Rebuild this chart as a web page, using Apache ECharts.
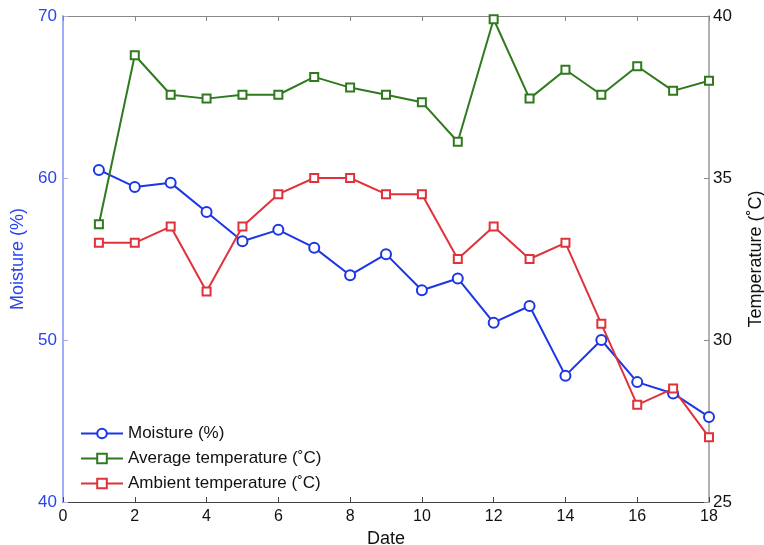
<!DOCTYPE html>
<html><head><meta charset="utf-8">
<script src="https://cdn.jsdelivr.net/npm/echarts@6/dist/echarts.min.js"></script>
<style>html,body{margin:0;padding:0;background:#fff}#c{width:764px;height:545px}</style>
</head><body><div id="c"></div>
<script>
const dates = [1,2,3,4,5,6,7,8,9,10,11,12,13,14,15,16,17,18];
const moisture = [60.5,59.45,59.7,57.9,56.1,56.8,55.7,54.0,55.3,53.07,53.8,51.07,52.1,47.8,50.0,47.4,46.7,45.25];
const avgTemp = [33.57,38.79,37.57,37.45,37.57,37.57,38.12,37.79,37.57,37.34,36.12,39.9,37.45,38.34,37.57,38.45,37.69,38.0];
const ambTemp = [33.0,33.0,33.5,31.5,33.5,34.5,35.0,35.0,34.5,34.5,32.5,33.5,32.5,33.0,30.5,28.0,28.5,27.0];
const xTicks = [0,18,2];
const leftTicks = [40,70,10];
const rightTicks = [25,40,5];

const font = "'Liberation Sans', Arial, sans-serif";
const blue = '#1c35e6', green = '#2f7a1e', red = '#e0323a';
const zip = (a) => dates.map((d,i)=>[d,a[i]]);

const chart = echarts.init(document.getElementById('c'));
chart.setOption({
  animation: false,
  textStyle: {fontFamily: font},
  grid: {left: 63, right: 55, top: 16, bottom: 43, show: false, outerBoundsMode: 'none', containLabel: false},
  legend: {
    orient: 'vertical', left: 75, top: 420, itemWidth: 42, itemHeight: 12, itemGap: 8,
    textStyle: {fontSize: 17, color: '#111', fontFamily: font},
    data: ['Moisture (%)', 'Average temperature (˚C)', 'Ambient temperature (˚C)']
  },
  xAxis: [{
    type: 'value', min: xTicks[0], max: xTicks[1], interval: xTicks[2],
    name: 'Date', nameLocation: 'middle', nameGap: 23,
    nameTextStyle: {fontSize: 18, color: '#111'},
    axisLine: {lineStyle: {color: '#444', width: 1}},
    axisTick: {inside: true, length: 5, lineStyle: {color: '#444'}},
    axisLabel: {fontSize: 16, color: '#111', margin: 7},
    splitLine: {show: false}
  }, {
    type: 'value', position: 'top', min: xTicks[0], max: xTicks[1], interval: xTicks[2],
    axisLine: {lineStyle: {color: '#888', width: 1}},
    axisTick: {inside: true, length: 5, lineStyle: {color: '#888'}},
    axisLabel: {show: false}, splitLine: {show: false}
  }],
  yAxis: [{
    type: 'value', min: leftTicks[0], max: leftTicks[1], interval: leftTicks[2],
    name: 'Moisture (%)', nameLocation: 'middle', nameGap: 32,
    nameTextStyle: {fontSize: 18, color: '#2a44ee'},
    axisLine: {show: true, onZero: false, lineStyle: {color: '#a0adf7', width: 2}},
    axisTick: {show: true, inside: true, length: 5, lineStyle: {color: '#a0adf7'}},
    axisLabel: {fontSize: 17, color: '#2a44ee', margin: 6},
    splitLine: {show: false}
  }, {
    type: 'value', position: 'right', min: rightTicks[0], max: rightTicks[1], interval: rightTicks[2],
    name: 'Temperature (˚C)', nameLocation: 'middle', nameGap: 38, nameRotate: 90,
    nameTextStyle: {fontSize: 18, color: '#111'},
    axisLine: {show: true, onZero: false, lineStyle: {color: '#999', width: 1.5}},
    axisTick: {show: true, inside: true, length: 5, lineStyle: {color: '#888'}},
    axisLabel: {fontSize: 17, color: '#111', margin: 4},
    splitLine: {show: false}
  }],
  series: [{
    name: 'Moisture (%)', type: 'line', yAxisIndex: 0, data: zip(moisture),
    symbol: 'emptyCircle', symbolSize: 10,
    lineStyle: {color: blue, width: 2}, itemStyle: {color: blue, borderWidth: 2}
  }, {
    name: 'Average temperature (˚C)', type: 'line', yAxisIndex: 1, data: zip(avgTemp),
    symbol: 'emptyRect', symbolSize: 8,
    lineStyle: {color: green, width: 2}, itemStyle: {color: green, borderWidth: 2}
  }, {
    name: 'Ambient temperature (˚C)', type: 'line', yAxisIndex: 1, data: zip(ambTemp),
    symbol: 'emptyRect', symbolSize: 8,
    lineStyle: {color: red, width: 2}, itemStyle: {color: red, borderWidth: 2}
  }]
});
</script></body></html>
